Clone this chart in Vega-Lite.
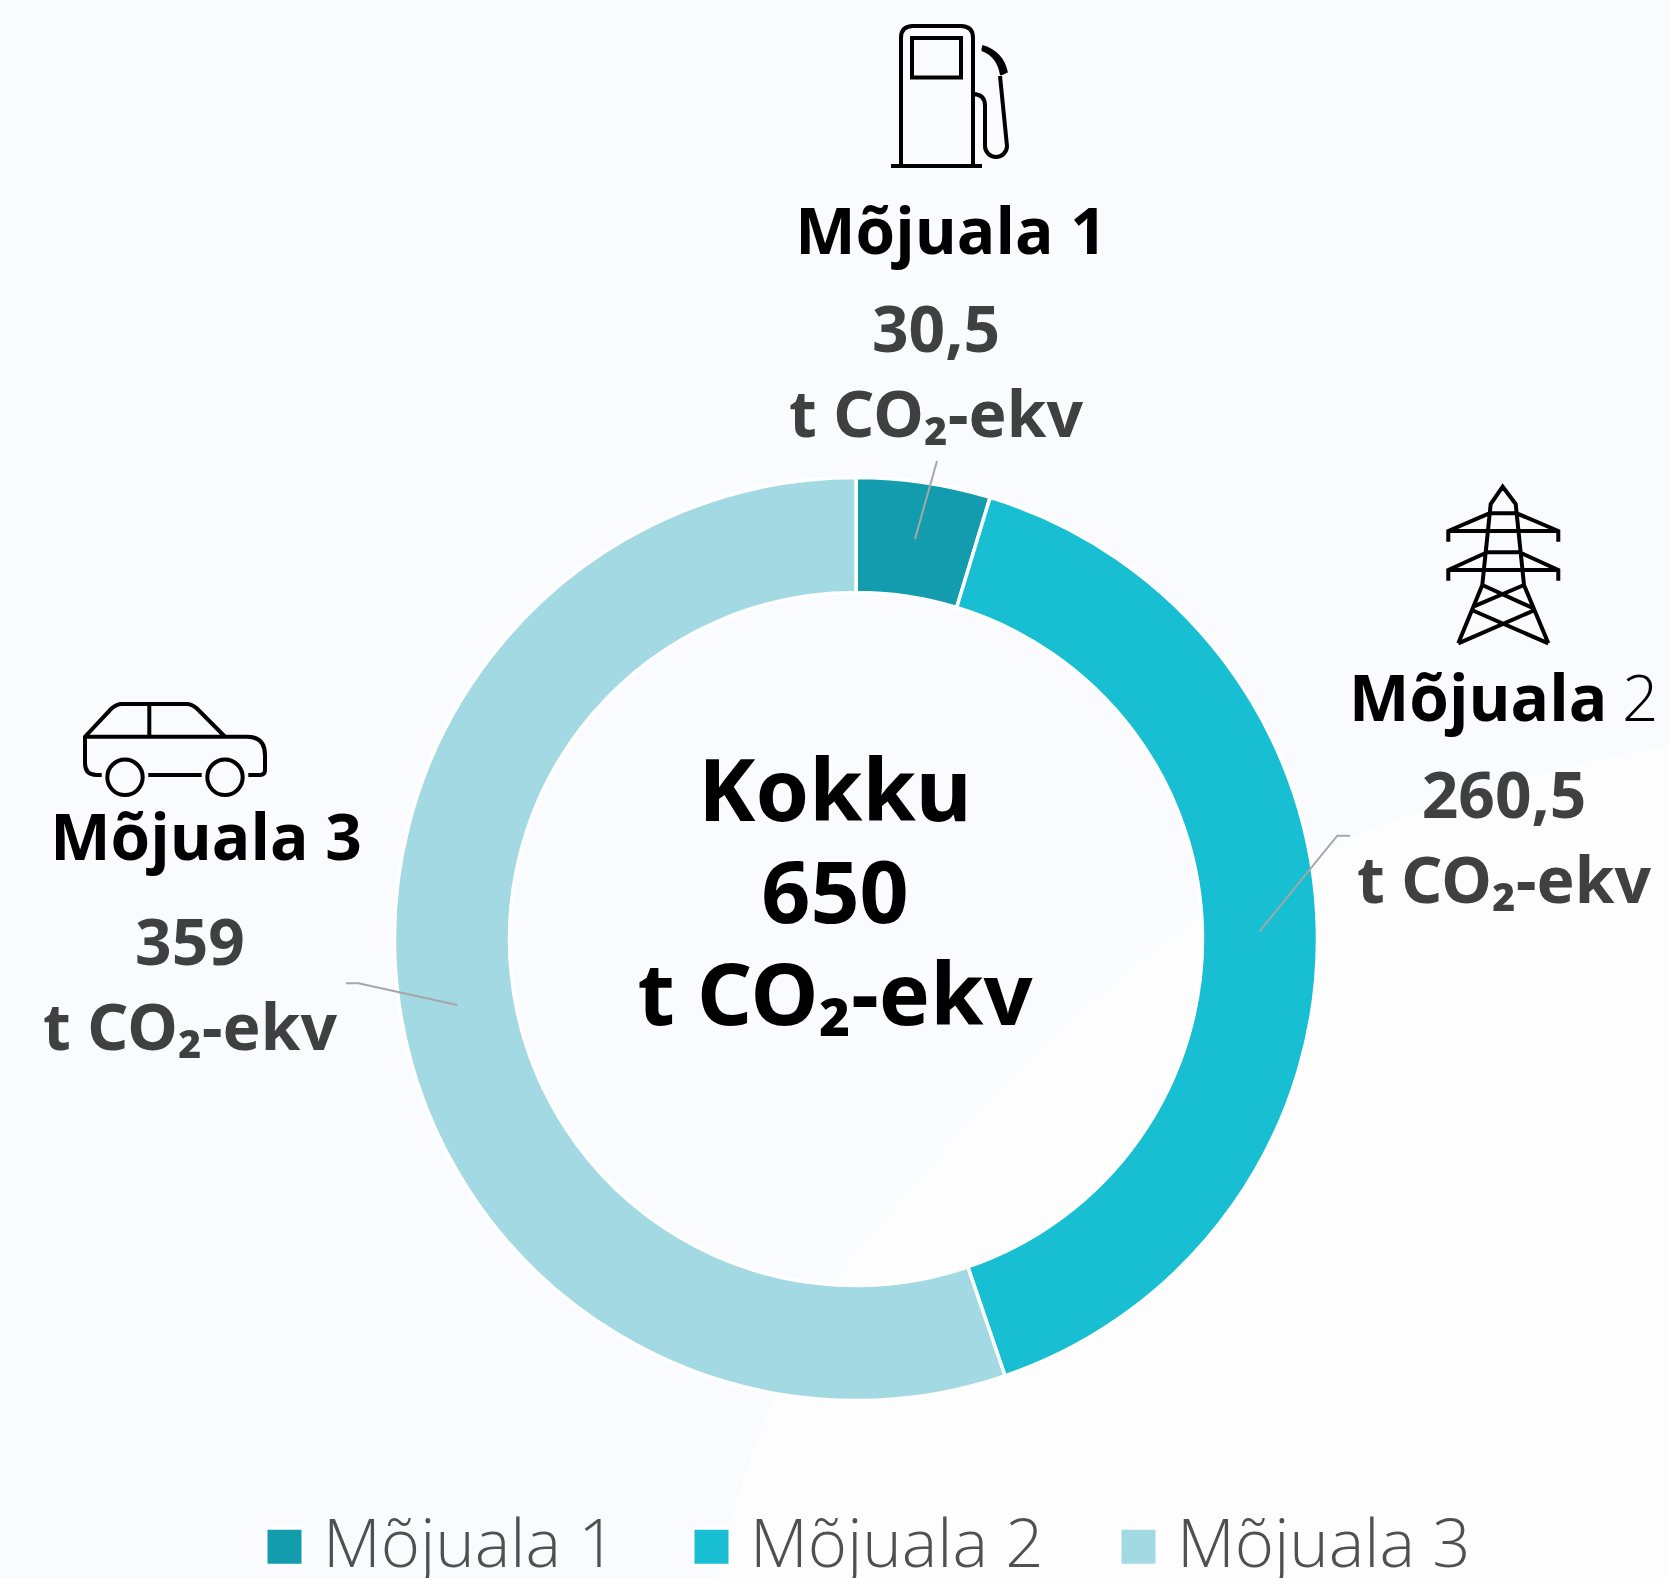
{
"$schema":"https://vega.github.io/schema/vega-lite/v6.json",
"width":1626,"height":1278,
"padding":{"left":43,"top":300,"right":0,"bottom":0},
"autosize":{"type":"none"},
"background":"#f9fbfe",
"config":{"view":{"stroke":null},"text":{"font":"Open Sans"}},
"data":{"values":[
{"nr":1,"name":"Mõjuala 1","value":30.5,"amount":"30,5|t CO₂-ekv"},
{"nr":2,"name":"Mõjuala 2","value":260.5,"amount":"260,5|t CO₂-ekv"},
{"nr":3,"name":"Mõjuala 3","value":359,"amount":"359|t CO₂-ekv"}
]},
"resolve":{"scale":{"shape":"independent"}},
"layer":[
{"data":{"values":[{"part":"sheen"}]},
 "mark":{"type":"point","filled":true,"opacity":1,"size":4,"fill":"#fdfdfe","strokeWidth":0,
 "shape":"M813 -194 C640 -160 480 -110 347 -24 C200 70 70 230 -5 317 C-60 400 -110 500 -138 639 L-138 700 L813 700 Z"},
 "encoding":{}},
{"mark":{"type":"arc","radius":461.5,"radius2":346.5,"stroke":"#ffffff","strokeWidth":3.5},
 "encoding":{
 "theta":{"field":"value","type":"quantitative","stack":true,"scale":{"domain":[0,650],"range":[0,6.283185307]}},
 "order":{"field":"nr","type":"ordinal"},
 "color":{"field":"name","type":"nominal","scale":{"domain":["Mõjuala 1","Mõjuala 2","Mõjuala 3"],"range":["#129cae","#18bed1","#a2d9e2"]},
 "legend":{"title":null,"orient":"none","legendX":208,"legendY":1213,"direction":"horizontal","columns":3,"columnPadding":61,"symbolType":"square","symbolSize":1369,"symbolStrokeColor":"#ffffff","symbolStrokeWidth":3,"labelOffset":5,"labelFont":"Open Sans","labelFontWeight":300,"labelFontSize":67,"labelColor":"#505050","labelLimit":500,"padding":0}}}},
{"mark":{"type":"point","filled":false,"opacity":1,"size":4,"stroke":"#a6a6a6","strokeWidth":2},
 "encoding":{"shape":{"field":"name","type":"nominal","legend":null,"scale":{"domain":["Mõjuala 1","Mõjuala 2","Mõjuala 3"],"range":[
 "M81 -478 L59 -400",
 "M494 -103.3 L481.3 -103.3 L403.3 -7.3",
 "M-510 44.3 L-497.7 44.3 L-398.7 66"]}}}},
{"mark":{"type":"point","filled":false,"opacity":1,"size":4,"stroke":"#000000","strokeWidth":4},
 "encoding":{"shape":{"field":"name","type":"nominal","legend":null,"scale":{"domain":["Mõjuala 1","Mõjuala 2","Mõjuala 3"],"range":[
 "M45 -773 L45 -901 Q45 -913 57 -913 L105 -913 Q117 -913 117 -901 L117 -773 M35 -773 L126 -773 M56 -901 L105 -901 L105 -861.5 L56 -861.5 Z M117 -845 Q129 -845 129 -833 L129 -793 A11 11 0 0 0 151 -793 L144 -863 M126 -892 Q146 -886 150 -866 M126 -890 Q143 -884 146 -864 M126 -891 Q145 -885 148 -865",
 "M602.3 -295.7 L626.3 -354 L634.7 -435 L646.7 -452.3 L659.7 -435 L668 -354 L692.3 -295.7 M633.3 -425.7 L660.7 -425.7 M633.3 -425.7 L592.3 -408 L592.3 -397.3 M660.7 -425.7 L702.3 -408 L702.3 -397.3 M592.3 -408 L702.3 -408 M630 -386.7 L664.7 -386.7 M629 -385.7 L592.3 -369 L592.3 -358.3 M665.7 -385.7 L702.3 -369 L702.3 -358.3 M592.3 -369 L702.3 -369 M626.3 -354 L677.3 -330.7 M668 -354 L617.3 -332.3 M615.7 -329 L692.3 -295.7 M679 -329 L602.3 -295.7",
 "M-754.3 -164 L-759.3 -164 Q-771 -164 -771 -175.7 L-771 -202.3 L-744.3 -230.7 Q-739.3 -235 -734.3 -235 L-669.3 -235 Q-664.3 -235 -659.3 -230.7 L-631 -202.3 L-609.3 -202.3 Q-591 -202.3 -591 -184 L-591 -169 Q-591 -164 -596 -164 L-607.7 -164 M-771 -202.3 L-631 -202.3 M-706.7 -235 L-706.7 -202.3 M-707.7 -164 L-654.3 -164 M-748.7 -161.7 A17.7 17.7 0 1 0 -713.3 -161.7 A17.7 17.7 0 1 0 -748.7 -161.7 Z M-648.7 -161.7 A17.7 17.7 0 1 0 -613.3 -161.7 A17.7 17.7 0 1 0 -648.7 -161.7 Z"]}}}},
{"data":{"values":[{"label":"Kokku|650|t CO₂-ekv"}]},
 "mark":{"type":"text","font":"Noto Sans","fontWeight":"bold","fontSize":86,"lineBreak":"|","lineHeight":102,"align":"center","baseline":"alphabetic","dx":-21,"dy":-118,"color":"#000000"},
 "encoding":{"text":{"field":"label"}}},
{"transform":[{"filter":"datum.nr==1"}],
 "mark":{"type":"text","font":"Open Sans","fontWeight":"bold","fontSize":64,"align":"center","baseline":"alphabetic","dx":95,"dy":-685,"color":"#000000"},
 "encoding":{"text":{"field":"name"}}},
{"transform":[{"filter":"datum.nr==3"}],
 "mark":{"type":"text","font":"Open Sans","fontWeight":"bold","fontSize":64,"align":"center","baseline":"alphabetic","dx":-650,"dy":-79,"color":"#000000"},
 "encoding":{"text":{"field":"name"}}},
{"transform":[{"filter":"datum.nr==2"}],
 "mark":{"type":"text","font":"Open Sans","fontWeight":"bold","fontSize":64,"align":"left","baseline":"alphabetic","dx":493,"dy":-218,"color":"#000000"},
 "encoding":{"text":{"value":"Mõjuala"}}},
{"transform":[{"filter":"datum.nr==2"}],
 "mark":{"type":"text","font":"Open Sans","fontWeight":300,"fontSize":64,"align":"left","baseline":"alphabetic","dx":766,"dy":-218,"color":"#000000"},
 "encoding":{"text":{"value":"2"}}},
{"transform":[{"filter":"datum.nr==1"}],
 "mark":{"type":"text","font":"Noto Sans","fontWeight":"bold","fontSize":64,"lineBreak":"|","lineHeight":85,"align":"center","baseline":"alphabetic","dx":80,"dy":-587,"color":"#404040"},
 "encoding":{"text":{"field":"amount"}}},
{"transform":[{"filter":"datum.nr==2"}],
 "mark":{"type":"text","font":"Noto Sans","fontWeight":"bold","fontSize":64,"lineBreak":"|","lineHeight":85,"align":"center","baseline":"alphabetic","dx":648,"dy":-121,"color":"#404040"},
 "encoding":{"text":{"field":"amount"}}},
{"transform":[{"filter":"datum.nr==3"}],
 "mark":{"type":"text","font":"Noto Sans","fontWeight":"bold","fontSize":64,"lineBreak":"|","lineHeight":85,"align":"center","baseline":"alphabetic","dx":-666,"dy":26,"color":"#404040"},
 "encoding":{"text":{"field":"amount"}}}
]
}
